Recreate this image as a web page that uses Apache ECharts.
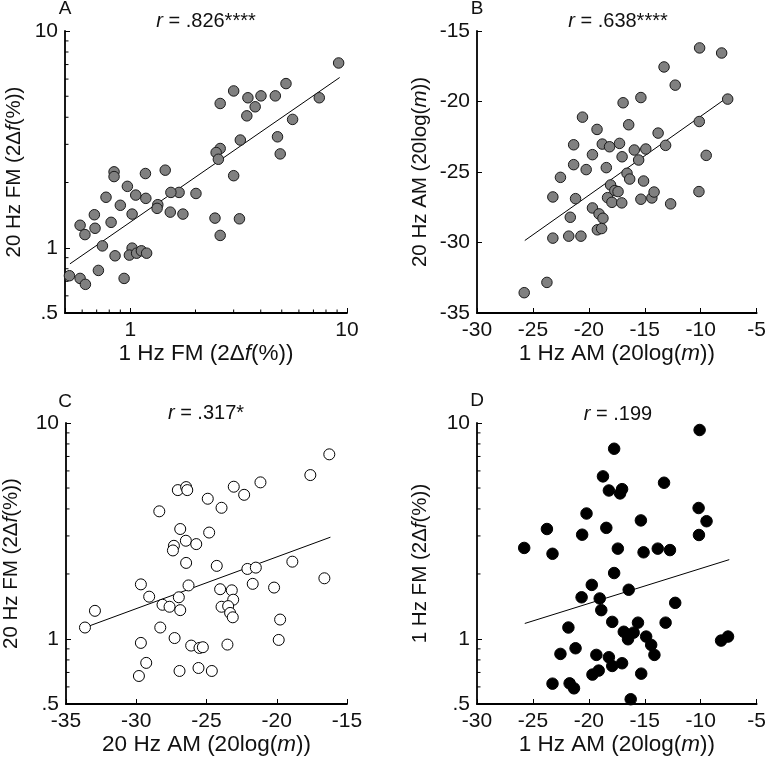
<!DOCTYPE html>
<html>
<head>
<meta charset="utf-8">
<script src="https://cdn.jsdelivr.net/npm/echarts@6/dist/echarts.min.js"></script>
<style>
  html, body { margin: 0; padding: 0; background: #fff; }
  #chart { width: 769px; height: 759px; }
</style>
</head>
<body>
<div id="chart"></div>
<script>
// panel A: 1 Hz FM (x) vs 20 Hz FM (y)
var fmA_x = [9.15,5.23,3.00,2.60,3.49,4.01,4.67,7.45,3.77,3.45,5.61,3.22,4.78,4.92,2.60,2.49,2.55,3.00,2.46,3.19,2.60,2.01,1.68,1.54,1.75,1.53,1.45,1.34,1.33,1.175,1.18,1.06,0.97,1.02,0.90,0.842,0.842,0.773,0.816,0.683,0.688,0.587,0.618,0.744,0.851,1.02,0.991,1.07,1.126,1.19,0.937,0.713,0.524,0.587,0.621];
var fmA_y = [7.12,5.72,5.29,4.63,4.92,5.02,5.02,4.92,4.47,4.06,3.91,3.14,3.25,2.71,2.87,2.75,2.56,2.15,1.37,1.36,1.14,1.78,1.80,1.80,1.43,1.46,2.28,1.58,1.52,2.20,1.69,1.75,1.92,1.43,1.57,2.24,2.13,1.71,1.31,1.42,1.23,1.27,1.15,1.02,0.918,0.996,0.925,0.944,0.968,0.944,0.722,0.786,0.743,0.722,0.678];

// panel B: 1 Hz AM (x) vs 20 Hz AM (y)
var amB_x = [-10.1,-8.13,-13.28,-12.28,-16.94,-15.35,-7.59,-20.57,-10.13,-19.27,-16.44,-13.81,-21.36,-18.8,-18.15,-17.26,-13.14,-15.94,-14.91,-19.68,-17.03,-9.51,-15.55,-21.36,-20.24,-18.44,-22.54,-16.59,-16.35,-15.11,-23.22,-21.19,-18.06,-17.68,-17.39,-18.33,-17.94,-17.06,-15.35,-14.37,-14.17,-12.69,-10.16,-19.68,-21.66,-19.09,-18.74,-19.24,-18.86,-23.22,-21.8,-20.71,-23.75,-25.78];
var amB_y = [-16.2,-16.56,-17.55,-18.84,-20.09,-19.72,-19.83,-21.11,-21.42,-21.98,-21.65,-22.24,-23.07,-23.02,-23.21,-22.97,-23.11,-23.44,-23.37,-23.77,-23.92,-23.82,-24.15,-24.48,-24.83,-24.69,-25.38,-25.09,-25.5,-25.64,-26.77,-26.89,-25.92,-26.32,-26.39,-26.82,-27.15,-27.19,-26.93,-26.84,-26.42,-27.26,-26.39,-27.55,-28.21,-27.97,-28.28,-29.1,-29.01,-29.69,-29.55,-29.55,-32.83,-33.56];

// panel C: 20 Hz AM (x) vs 20 Hz FM (y)
var amC_x = [-16.26,-17.61,-21.16,-23.06,-27.04,-26.45,-26.37,-22.32,-24.91,-23.93,-28.36,-26.87,-24.81,-26.47,-25.73,-27.32,-27.39,-26.45,-24.27,-22.09,-21.49,-18.89,-16.61,-29.67,-26.28,-21.71,-20.19,-24.03,-23.2,-29.08,-26.97,-23.1,-28.13,-27.63,-26.87,-23.93,-23.46,-23.32,-23.13,-32.94,-33.65,-28.29,-19.76,-27.27,-29.67,-26.09,-25.5,-25.26,-23.51,-19.86,-29.29,-26.92,-25.57,-24.62,-29.81];
var fmC_y = [7.16,5.74,5.31,5.07,4.89,5.05,4.89,4.65,4.46,4.05,3.90,3.23,3.11,2.85,2.75,2.70,2.57,2.25,2.18,2.11,2.14,2.28,1.91,1.79,1.77,1.80,1.73,1.70,1.68,1.57,1.56,1.52,1.44,1.41,1.36,1.41,1.42,1.32,1.26,1.35,1.13,1.13,1.23,1.01,0.959,0.932,0.909,0.916,0.942,0.99,0.775,0.711,0.734,0.711,0.674];

// panel D: 1 Hz AM (x) vs 1 Hz FM (y)
var amD_x = [-10.1,-17.74,-18.74,-13.28,-18.21,-17.03,-17.21,-10.19,-20.21,-23.75,-18.44,-15.35,-9.48,-20.6,-10.16,-25.78,-23.25,-17.41,-15.11,-13.84,-12.75,-17.74,-19.74,-16.44,-20.65,-19.03,-18.89,-12.28,-17.91,-15.61,-13.14,-21.83,-16.88,-16.0,-16.5,-14.88,-8.18,-7.56,-21.19,-22.54,-19.33,-18.21,-14.43,-14.14,-17.91,-17.03,-19.68,-19.12,-15.32,-23.25,-21.72,-21.33,-16.26];
var fmD_y = [9.28,7.60,5.66,5.29,4.87,4.94,4.72,4.04,3.81,3.23,3.27,3.54,3.51,3.04,3.03,2.64,2.48,2.62,2.52,2.62,2.58,2.02,1.78,1.69,1.56,1.54,1.36,1.47,1.20,1.19,1.19,1.13,1.08,1.07,0.997,1.026,0.983,1.026,0.906,0.853,0.844,0.823,0.939,0.844,0.750,0.772,0.684,0.714,0.691,0.621,0.623,0.591,0.526];

// regression line end points
var fitA = [[0.527, 0.843], [9.25, 6.10]];
var fitB = [[-25.73, -29.86], [-7.83, -19.83]];
var fitC = [[-33.65, 1.13], [-16.18, 2.96]];
var fitD = [[-25.73, 1.18], [-7.45, 2.33]];

var panelLetters = ['A', 'B', 'C', 'D'];
var rValues = ['.826****', '.638****', '.317*', '.199'];
var logMinor = [0.6, 0.7, 0.8, 0.9, 2, 3, 4, 5, 6, 7, 8, 9];

var FONT = '"Liberation Sans", Arial, sans-serif';

function zip(xs, ys) {
    var out = [];
    for (var i = 0; i < xs.length; i++) out.push([xs[i], ys[i]]);
    return out;
}

function logLabel(v) {
    if (v === 0.5) return '.5';
    return String(v);
}

function labelStyle(fmt) {
    var s = { fontFamily: FONT, fontSize: 21, color: '#111', margin: 7 };
    if (fmt) s.formatter = fmt;
    return s;
}

function nameStyle(size) {
    return {
        fontFamily: FONT, fontSize: size, color: '#111',
        rich: { i: { fontFamily: FONT, fontSize: size, fontStyle: 'italic', color: '#111' } }
    };
}

function baseAxis(extra) {
    var ax = {
        nameLocation: 'middle',
        axisLine: { onZero: false, lineStyle: { color: '#000', width: 1.8 } },
        axisTick: { inside: true, length: 5, lineStyle: { color: '#000', width: 1 } },
        axisLabel: labelStyle(),
        splitLine: { show: false }
    };
    for (var k in extra) ax[k] = extra[k];
    return ax;
}

var fmName = '2Δ{i|f}(%)';
var amName = '20log({i|m})';

var grids = [
    { left: 65, top: 31, width: 282, height: 282 },
    { left: 477, top: 31, width: 282, height: 282 },
    { left: 65, top: 423, width: 282, height: 281 },
    { left: 477, top: 423, width: 282, height: 281 }
];

var xAxes = [
    baseAxis({ gridIndex: 0, type: 'log', logBase: 10, min: 0.5, max: 10, name: '1 Hz FM (' + fmName + ')', nameGap: 26,
        nameTextStyle: nameStyle(22.5), axisLabel: labelStyle(function (v) { return v < 0.9 ? '' : String(v); }) }),
    baseAxis({ gridIndex: 1, type: 'value', min: -30, max: -5, interval: 5, name: '1 Hz AM (' + amName + ')', nameGap: 26,
        nameTextStyle: nameStyle(22.5) }),
    baseAxis({ gridIndex: 2, type: 'value', min: -35, max: -15, interval: 5, name: '20 Hz AM (' + amName + ')', nameGap: 26,
        nameTextStyle: nameStyle(22.5) }),
    baseAxis({ gridIndex: 3, type: 'value', min: -30, max: -5, interval: 5, name: '1 Hz AM (' + amName + ')', nameGap: 26,
        nameTextStyle: nameStyle(22.5) })
];

var yAxes = [
    baseAxis({ gridIndex: 0, type: 'log', logBase: 10, min: 0.5, max: 10, name: '20 Hz FM (' + fmName + ')', nameGap: 40,
        nameTextStyle: nameStyle(20.5), axisLabel: labelStyle(logLabel) }),
    baseAxis({ gridIndex: 1, type: 'value', min: -35, max: -15, interval: 5, name: '20 Hz AM (' + amName + ')', nameGap: 46,
        nameTextStyle: nameStyle(20.5) }),
    baseAxis({ gridIndex: 2, type: 'log', logBase: 10, min: 0.5, max: 10, name: '20 Hz FM (' + fmName + ')', nameGap: 44,
        nameTextStyle: nameStyle(20.5), axisLabel: labelStyle(logLabel) }),
    baseAxis({ gridIndex: 3, type: 'log', logBase: 10, min: 0.5, max: 10, name: '1 Hz FM (' + fmName + ')', nameGap: 46,
        nameTextStyle: nameStyle(20.5), axisLabel: labelStyle(logLabel) })
];

function scatter(idx, data, size, fill, border) {
    return {
        type: 'scatter', xAxisIndex: idx, yAxisIndex: idx, data: data,
        symbol: 'circle', symbolSize: size, z: 3, silent: true,
        itemStyle: { color: fill, borderColor: border, borderWidth: 1, opacity: 1 }
    };
}

function fitLine(idx, data) {
    return {
        type: 'line', xAxisIndex: idx, yAxisIndex: idx, data: data,
        symbol: 'none', z: 2, silent: true,
        lineStyle: { color: '#000', width: 1 }
    };
}

// short inward ticks at the minor log positions
function minorTicks(idx, data, vertical) {
    return {
        type: 'custom', xAxisIndex: idx, yAxisIndex: idx, data: data, silent: true, z: 4,
        renderItem: function (params, api) {
            var p = api.coord([api.value(0), api.value(1)]);
            var shape = vertical
                ? { x1: p[0], y1: p[1], x2: p[0] + 3.5, y2: p[1] }
                : { x1: p[0], y1: p[1], x2: p[0], y2: p[1] - 3.5 };
            return { type: 'line', shape: shape, style: { stroke: '#000', lineWidth: 1 } };
        }
    };
}

var yMinorA = logMinor.map(function (v) { return [0.5, v]; });
var xMinorA = logMinor.map(function (v) { return [v, 0.5]; });
var yMinorC = logMinor.map(function (v) { return [-35, v]; });
var yMinorD = logMinor.map(function (v) { return [-30, v]; });

var series = [
    fitLine(0, fitA), fitLine(1, fitB), fitLine(2, fitC), fitLine(3, fitD),
    scatter(0, zip(fmA_x, fmA_y), 10.5, '#808080', '#1a1a1a'),
    scatter(1, zip(amB_x, amB_y), 10.5, '#808080', '#1a1a1a'),
    scatter(2, zip(amC_x, fmC_y), 11, '#ffffff', '#000000'),
    scatter(3, zip(amD_x, fmD_y), 11.5, '#000000', '#000000'),
    minorTicks(0, yMinorA, true), minorTicks(0, xMinorA, false),
    minorTicks(2, yMinorC, true), minorTicks(3, yMinorD, true)
];

// panel letters and r values above each panel
var letterPos = [[65, 9], [477, 9], [65, 402], [477, 401]];
var rPos = [[206, 21], [618, 21], [206, 413], [618, 414]];
var graphics = [];
for (var i = 0; i < 4; i++) {
    graphics.push({
        type: 'text', x: letterPos[i][0], y: letterPos[i][1], silent: true,
        style: { text: panelLetters[i], font: '19px ' + FONT, fill: '#111', textAlign: 'center', textVerticalAlign: 'middle' }
    });
    graphics.push({
        type: 'text', x: rPos[i][0], y: rPos[i][1], silent: true,
        style: {
            text: '{i|r} = ' + rValues[i], font: '20px ' + FONT, fill: '#111',
            textAlign: 'center', textVerticalAlign: 'middle',
            rich: { i: { font: 'italic 20px ' + FONT, fill: '#111' } }
        }
    });
}

var chart = echarts.init(document.getElementById('chart'));
chart.setOption({
    animation: false,
    backgroundColor: '#fff',
    grid: grids,
    xAxis: xAxes,
    yAxis: yAxes,
    series: series,
    graphic: graphics
});
</script>
</body>
</html>
